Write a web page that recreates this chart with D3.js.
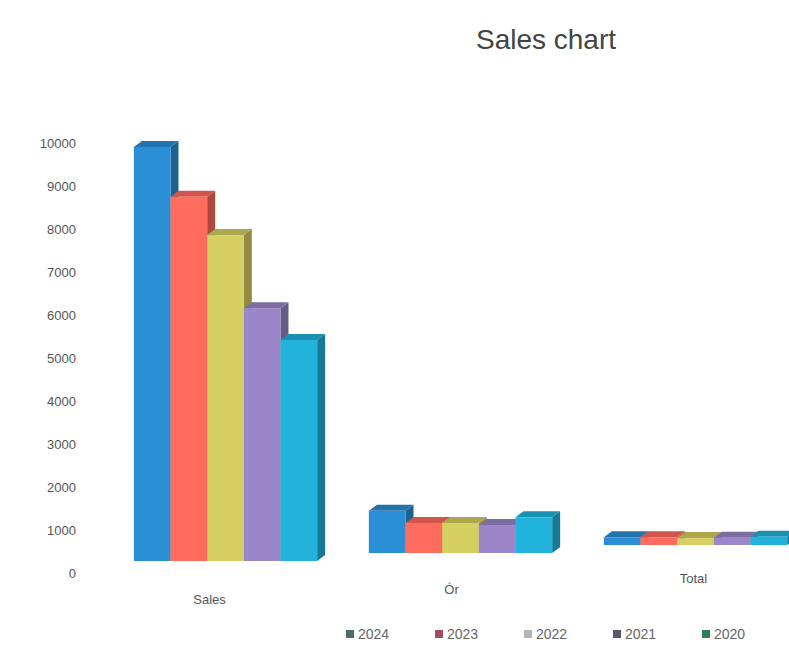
<!DOCTYPE html>
<html lang="en">
<head>
  <meta charset="utf-8">
  <title>Sales chart</title>
  <script src="https://cdn.jsdelivr.net/npm/d3@7"></script>
  <style>
    body { margin: 0; background: #fff; }
    text { font-family: "Liberation Sans", sans-serif; }
  </style>
</head>
<body>
  <script type="text/javascript">
    // chart data
    var categories = ["Sales", "Ór", "Total"];
    var years = ["2024", "2023", "2022", "2021", "2020"];
    var v2024 = [9630, 980, 180];
    var v2023 = [8470, 700, 180];
    var v2022 = [7580, 700, 160];
    var v2021 = [5880, 650, 170];
    var v2020 = [5140, 830, 190];
    var yTicks = [0, 1000, 2000, 3000, 4000, 5000, 6000, 7000, 8000, 9000, 10000];

    var seriesValues = [v2024, v2023, v2022, v2021, v2020];
    var colors = ["#2b8fd6", "#ff6b5c", "#d6cf62", "#9a86c8", "#22b3dc"];
    var legendColors = ["#4c6e68", "#a24e60", "#b4b4b4", "#56596c", "#2f7d5d"];

    var width = 789, height = 669;
    var depthX = 8, depthY = -6;

    var svg = d3.select("body").append("svg")
      .attr("width", width).attr("height", height);

    // title
    svg.append("text")
      .attr("x", 546).attr("y", 49)
      .attr("text-anchor", "middle")
      .attr("font-size", 28)
      .attr("fill", "#444")
      .text("Sales chart");

    var y = d3.scaleLinear().domain([0, 10000]).range([573, 143]);

    var x0 = d3.scaleBand().domain(categories).range([108, 813])
      .paddingInner(0.22).paddingOuter(0.11);
    var x1 = d3.scaleBand().domain(years).range([0, x0.bandwidth()]);

    // y axis labels (no line, no ticks)
    var yAxis = d3.axisLeft(y).tickValues(yTicks).tickSize(0).tickPadding(0)
      .tickFormat(function(d) { return d; });
    var ga = svg.append("g").attr("transform", "translate(76,0)").call(yAxis);
    ga.select(".domain").remove();
    ga.selectAll("text")
      .attr("font-size", 13)
      .attr("fill", "#555")
      .style("font-family", "'Liberation Sans', sans-serif");

    // perspective: the floor rises slightly toward the right
    function baseOf(ci) { return y(0) - 12 - ci * 8; }

    var rows = [];
    categories.forEach(function(c, ci) {
      years.forEach(function(yr, si) {
        rows.push({ cat: c, ci: ci, year: yr, si: si, value: seriesValues[si][ci] });
      });
    });

    function shade(col, k) { return d3.color(col).darker(k).formatHex(); }

    var bars = svg.append("g").selectAll("g.bar").data(rows).enter().append("g").attr("class", "bar");

    bars.each(function(d) {
      var g = d3.select(this);
      var x = x0(d.cat) + x1(d.year);
      var w = x1.bandwidth();
      var b = baseOf(d.ci);
      var top = b - (y(0) - y(d.value));
      var col = colors[d.si];
      // side face
      g.append("path")
        .attr("d", "M" + (x + w) + "," + b + " L" + (x + w + depthX) + "," + (b + depthY) +
          " L" + (x + w + depthX) + "," + (top + depthY) + " L" + (x + w) + "," + top + "Z")
        .attr("fill", shade(col, 1.1));
      // top face
      g.append("path")
        .attr("d", "M" + x + "," + top + " L" + (x + depthX) + "," + (top + depthY) +
          " L" + (x + w + depthX) + "," + (top + depthY) + " L" + (x + w) + "," + top + "Z")
        .attr("fill", shade(col, 0.6));
      // front face
      g.append("rect")
        .attr("x", x).attr("y", top)
        .attr("width", w).attr("height", b - top)
        .attr("fill", col);
    });

    // category labels, following the tilted floor
    svg.append("g").selectAll("text").data(categories).enter().append("text")
      .attr("x", function(d, i) { return x0(d) + x0.bandwidth() / 2 - 16 + i * 7; })
      .attr("y", function(d, i) { return baseOf(i) + 43 - i * 2.5; })
      .attr("text-anchor", "middle")
      .attr("font-size", 13)
      .attr("fill", "#555")
      .text(function(d) { return d; });

    // legend
    var legend = svg.append("g").attr("transform", "translate(346,634)");
    var item = legend.selectAll("g").data(years).enter().append("g")
      .attr("transform", function(d, i) { return "translate(" + (i * 89) + ",0)"; });
    item.append("rect").attr("x", 0).attr("y", -4).attr("width", 8).attr("height", 8)
      .attr("fill", function(d, i) { return legendColors[i]; });
    item.append("text").attr("x", 12).attr("y", 5)
      .attr("font-size", 14).attr("fill", "#666")
      .text(function(d) { return d; });
  </script>
</body>
</html>
